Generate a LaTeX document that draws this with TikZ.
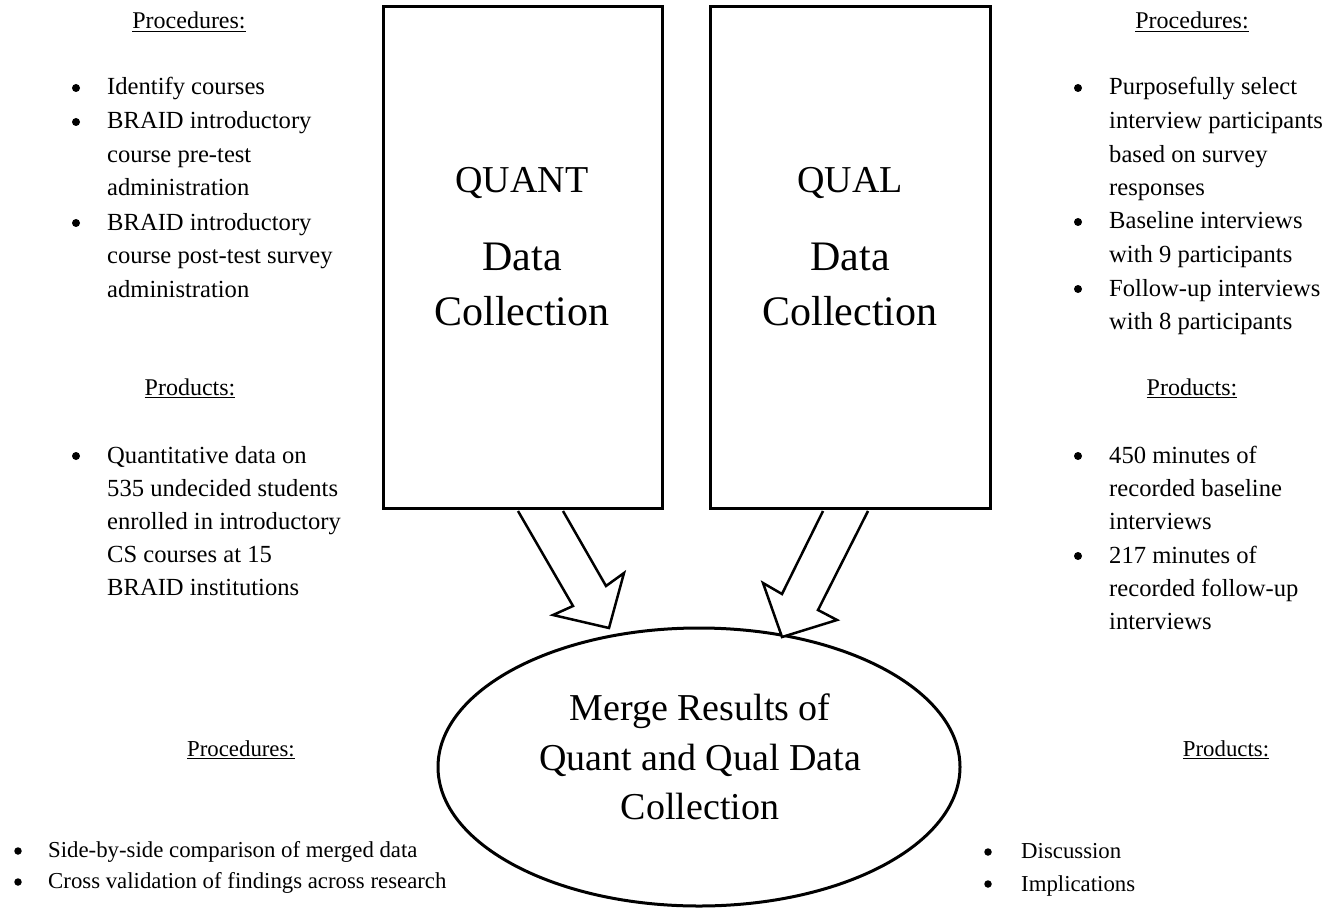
\documentclass[tikz,border=0pt]{standalone}
\usepackage{fontspec}
\setmainfont{Liberation Serif}
\begin{document}
\begin{tikzpicture}[x=1pt,y=-1pt,
  txt/.style={anchor=base west,inner sep=0pt,font=\fontsize{24.6}{30}\selectfont},
  stxt/.style={anchor=base west,inner sep=0pt,font=\fontsize{22.8}{28}\selectfont},
  head/.style={anchor=base,inner sep=0pt,font=\fontsize{24}{30}\selectfont},
  shead/.style={anchor=base,inner sep=0pt,font=\fontsize{22.8}{28}\selectfont},
  dot/.style={circle,fill=black,inner sep=0pt,minimum size=8pt},
  sdot/.style={circle,fill=black,inner sep=0pt,minimum size=7.5pt},
  bigcap/.style={anchor=base,inner sep=0pt,font=\fontsize{38}{46}\selectfont},
  big/.style={anchor=base,inner sep=0pt,font=\fontsize{42}{50}\selectfont},
  mid/.style={anchor=base,inner sep=0pt,font=\fontsize{38}{46}\selectfont},
  frame/.style={draw=black,line width=3pt},
  blockarrow/.style={draw=black,line width=2.5pt,fill=white,line join=miter}
]
\useasboundingbox (0,0) rectangle (1329,909);

% boxes
\node[frame,minimum width=279pt,minimum height=501pt,inner sep=0pt] (quant) at (522.5,257.5) {};
\node[frame,minimum width=280pt,minimum height=501pt,inner sep=0pt] (qual) at (850,257.5) {};
\node[bigcap] (q1) at (522,193) {QUANT};
\node[big] (q2) at (522,270) {Data};
\node[big] (q3) at (522,325) {Collection};
\node[bigcap] (r1) at (850,193) {QUAL};
\node[big] (r2) at (850,270) {Data};
\node[big] (r3) at (850,325) {Collection};

% ellipse
\draw[frame] (699,767) ellipse [x radius=261, y radius=139];
\coordinate (merge) at (699,767);
\node[mid] (m1) at (700,720) {Merge Results of};
\node[mid] (m2) at (700,770) {Quant and Qual Data};
\node[mid] (m3) at (700,819) {Collection};

% block arrows
\draw[blockarrow] (518,511) -- (573,606) -- (553,615) -- (609,628) -- (624,573) -- (606,586) -- (563,511);
\draw[blockarrow] (823,511) -- (782,594) -- (763,583) -- (782,637) -- (837,620) -- (818,610) -- (868,511);

% left top
\node[head] (lph) at (189,29) {\underline{Procedures:}};
\foreach \y [count=\i] in {88,122,223}{\node[dot] (lpb\i) at (76,\y) {};}
\foreach \t/\y [count=\i] in {Identify courses/95,BRAID introductory/129,course pre-test/163,administration/196,BRAID introductory/230,course post-test survey/263,administration/297}
  {\node[txt] (lp\i) at (107,\y) {\t};}
\node[head] (lrh) at (190,395) {\underline{Products:}};
\node[dot] (lrb1) at (76,456) {};
\foreach \t/\y [count=\i] in {Quantitative data on/463,535 undecided students/496,enrolled in introductory/529,CS courses at 15/562,BRAID institutions/595}
  {\node[txt] (lr\i) at (107,\y) {\t};}

% right top
\node[head] (rph) at (1192,29) {\underline{Procedures:}};
\foreach \y [count=\i] in {88,222,289}{\node[dot] (rpb\i) at (1078,\y) {};}
\foreach \t/\y [count=\i] in {Purposefully select/95,interview participants/129,based on survey/163,responses/196,Baseline interviews/229,with 9 participants/262,Follow-up interviews/296,with 8 participants/329}
  {\node[txt] (rp\i) at (1109,\y) {\t};}
\node[head] (rrh) at (1192,395) {\underline{Products:}};
\foreach \y [count=\i] in {456,556}{\node[dot] (rrb\i) at (1078,\y) {};}
\foreach \t/\y [count=\i] in {450 minutes of/463,recorded baseline/496,interviews/529,217 minutes of/563,recorded follow-up/596,interviews/629}
  {\node[txt] (rr\i) at (1109,\y) {\t};}

% bottom
\node[shead] (bph) at (241,756) {\underline{Procedures:}};
\foreach \y [count=\i] in {851,882}{\node[sdot] (bpb\i) at (18,\y) {};}
\node[stxt] (bp1) at (48,857) {Side-by-side comparison of merged data};
\node[stxt] (bp2) at (48,888) {Cross validation of findings across research};
\node[shead] (brh) at (1226,756) {\underline{Products:}};
\foreach \y [count=\i] in {852,884}{\node[sdot] (brb\i) at (988,\y) {};}
\node[stxt] (br1) at (1021,858) {Discussion};
\node[stxt] (br2) at (1021,891) {Implications};
\end{tikzpicture}
\end{document}
